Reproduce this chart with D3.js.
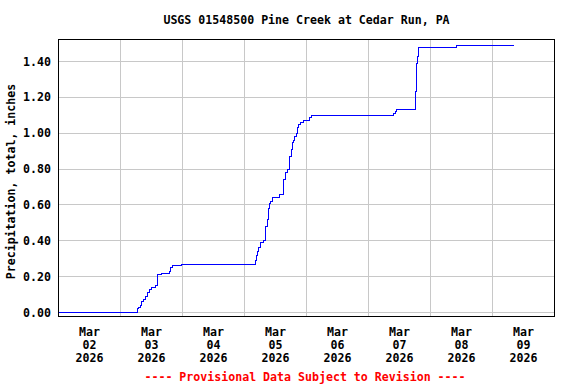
<!DOCTYPE html>
<html>
<head>
<meta charset="utf-8">
<script src="https://cdn.jsdelivr.net/npm/d3@7"></script>
<style>
  body { margin: 0; background: #fff; }
  text { font-family: "DejaVu Sans Mono", monospace; font-weight: bold; font-size: 11.6px; }
</style>
</head>
<body>
<div id="chart"></div>
<script>
// Cumulative precipitation readings (change points of the step line)
const times = [
    "2026-03-02 00:00", "2026-03-03 06:25", "2026-03-03 06:55", "2026-03-03 07:35",
    "2026-03-03 08:10", "2026-03-03 09:00", "2026-03-03 09:45", "2026-03-03 10:30",
    "2026-03-03 11:15", "2026-03-03 12:00", "2026-03-03 13:30", "2026-03-03 14:30",
    "2026-03-03 16:00", "2026-03-03 19:00", "2026-03-03 19:30", "2026-03-03 20:15",
    "2026-03-03 23:45",
    "2026-03-05 04:15", "2026-03-05 04:45", "2026-03-05 05:00", "2026-03-05 05:30",
    "2026-03-05 06:00", "2026-03-05 06:15", "2026-03-05 07:30", "2026-03-05 08:00",
    "2026-03-05 08:45", "2026-03-05 09:15", "2026-03-05 09:30", "2026-03-05 10:00",
    "2026-03-05 10:45", "2026-03-05 13:30", "2026-03-05 15:00", "2026-03-05 15:15",
    "2026-03-05 15:45", "2026-03-05 16:30", "2026-03-05 17:15", "2026-03-05 17:30",
    "2026-03-05 18:00", "2026-03-05 18:30", "2026-03-05 19:00", "2026-03-05 19:30",
    "2026-03-05 20:00", "2026-03-05 20:30", "2026-03-05 21:00", "2026-03-05 21:30",
    "2026-03-05 23:00", "2026-03-06 01:00", "2026-03-06 01:45",
    "2026-03-07 09:30", "2026-03-07 10:30", "2026-03-07 11:00", "2026-03-07 18:00",
    "2026-03-07 18:15", "2026-03-07 18:30", "2026-03-07 18:45", "2026-03-07 19:00",
    "2026-03-07 19:15", "2026-03-08 10:15", "2026-03-09 08:15"
];
const values = [
    0.00, 0.02, 0.03, 0.04,
    0.06, 0.07, 0.09, 0.11,
    0.13, 0.14, 0.15, 0.21,
    0.22, 0.23, 0.25, 0.26,
    0.27,
    0.29, 0.32, 0.34, 0.36,
    0.38, 0.39, 0.40, 0.48,
    0.52, 0.58, 0.61, 0.62,
    0.64, 0.66, 0.70, 0.74,
    0.78, 0.80, 0.83, 0.87,
    0.91, 0.95, 0.96, 0.98,
    1.00, 1.03, 1.05, 1.06,
    1.07, 1.09, 1.10,
    1.11, 1.12, 1.13, 1.14,
    1.23, 1.37, 1.39, 1.43,
    1.48, 1.49, 1.49
];
const yTicks = [0, 0.2, 0.4, 0.6, 0.8, 1.0, 1.2, 1.4];
const dayLabels = ["2026-03-02", "2026-03-03", "2026-03-04", "2026-03-05",
                   "2026-03-06", "2026-03-07", "2026-03-08", "2026-03-09"];
const timeDomain = ["2026-03-02 00:00", "2026-03-10 00:00"];

const title = "USGS 01548500 Pine Creek at Cedar Run, PA";
const yLabel = "Precipitation, total, inches";
const footer = "---- Provisional Data Subject to Revision ----";

const width = 576;
const height = 384;
const plot = { left: 58.5, right: 554.5, top: 39.5, bottom: 316.5 };

const parseTime = d3.timeParse("%Y-%m-%d %H:%M");
const parseDay = d3.timeParse("%Y-%m-%d");
const data = times.map((t, i) => ({ t: parseTime(t), v: values[i] }));

const svg = d3.select("#chart")
    .append("svg")
    .attr("width", width)
    .attr("height", height);

const x = d3.scaleTime()
    .domain(timeDomain.map(parseTime))
    .range([plot.left, plot.right]);

const y = d3.scaleLinear()
    .domain([0, 1.4])
    .range([312.5, 61.5]);

// Grid lines
const grid = svg.append("g")
    .attr("stroke", "#c8c8c8")
    .attr("stroke-width", 1)
    .attr("shape-rendering", "crispEdges");

grid.selectAll(".hgrid")
    .data(yTicks)
    .join("line")
    .attr("x1", plot.left)
    .attr("x2", plot.right)
    .attr("y1", d => y(d))
    .attr("y2", d => y(d));

const midnights = d3.timeDay.range(d3.timeDay.offset(x.domain()[0], 1), x.domain()[1]);
grid.selectAll(".vgrid")
    .data(midnights)
    .join("line")
    .attr("x1", d => x(d))
    .attr("x2", d => x(d))
    .attr("y1", plot.top)
    .attr("y2", plot.bottom);

// Data line
const line = d3.line()
    .x(d => x(d.t))
    .y(d => y(d.v))
    .curve(d3.curveStepAfter);

svg.append("path")
    .datum(data)
    .attr("fill", "none")
    .attr("stroke", "#0000ff")
    .attr("stroke-width", 1)
    .attr("shape-rendering", "crispEdges")
    .attr("d", line);

// Border
svg.append("rect")
    .attr("x", plot.left)
    .attr("y", plot.top)
    .attr("width", plot.right - plot.left)
    .attr("height", plot.bottom - plot.top)
    .attr("fill", "none")
    .attr("stroke", "#000")
    .attr("shape-rendering", "crispEdges");

// Y tick labels
svg.selectAll(".ytick")
    .data(yTicks)
    .join("text")
    .attr("x", 51)
    .attr("y", d => y(d) + 4)
    .attr("text-anchor", "end")
    .text(d3.format(".2f"));

// X labels at noon of each day
const fmtMon = d3.timeFormat("%b");
const fmtDay = d3.timeFormat("%d");
const fmtYear = d3.timeFormat("%Y");
const xl = svg.selectAll(".xlabel")
    .data(dayLabels.map(d => d3.timeHour.offset(parseDay(d), 12)))
    .join("text")
    .attr("text-anchor", "middle");
xl.append("tspan").attr("x", d => x(d)).attr("y", 335.5).text(fmtMon);
xl.append("tspan").attr("x", d => x(d)).attr("y", 348.5).text(fmtDay);
xl.append("tspan").attr("x", d => x(d)).attr("y", 361.5).text(fmtYear);

// Title, axis title, footer
svg.append("text")
    .attr("x", (plot.left + plot.right) / 2)
    .attr("y", 24)
    .attr("text-anchor", "middle")
    .text(title);

svg.append("text")
    .attr("transform", "translate(15,181.5) rotate(-90)")
    .attr("text-anchor", "middle")
    .text(yLabel);

svg.append("text")
    .attr("x", 305)
    .attr("y", 381)
    .attr("text-anchor", "middle")
    .attr("fill", "#ff0000")
    .text(footer);
</script>
</body>
</html>
